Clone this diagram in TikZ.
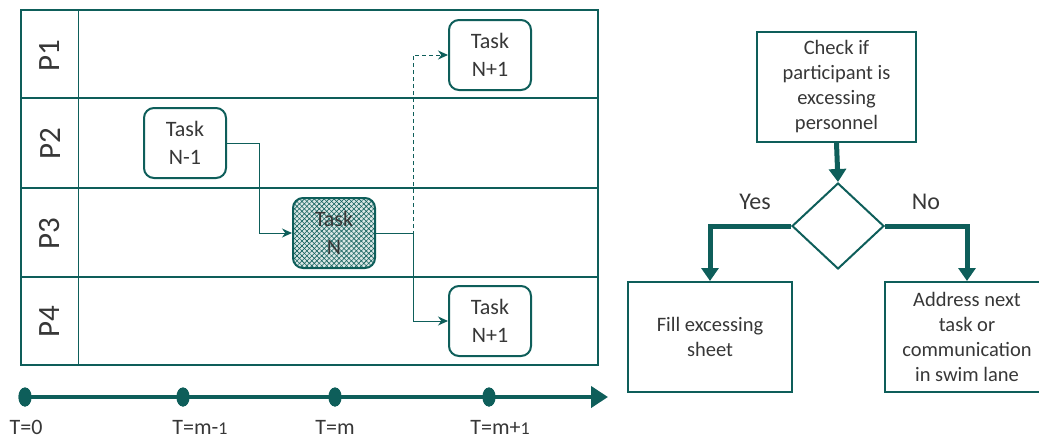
\documentclass[tikz,border=0pt]{standalone}
\usepackage{fontspec}
\setmainfont{Carlito}
\usetikzlibrary{arrows.meta,shapes.geometric,patterns.meta}
\definecolor{lane}{RGB}{14,94,90}
\definecolor{ink}{RGB}{55,55,55}
\tikzset{
  taskbox/.style={draw=lane, line width=2, rounded corners=10, minimum width=82,
    minimum height=70, align=center, text=ink, font=\fontsize{22}{28}\selectfont, fill=white},
  lanelabel/.style={rotate=90, text=ink, font=\fontsize{31}{33}\selectfont},
  conn/.style={draw=lane, line width=1, -{Stealth[length=10,width=9]}},
  tick/.style={ellipse, fill=lane, minimum width=13, minimum height=19, inner sep=0},
  ticklabel/.style={text=ink, font=\fontsize{22}{24}\selectfont},
  flowbox/.style={draw=lane, line width=2, minimum width=164, minimum height=110,
    align=center, text=ink, font=\fontsize{20.5}{25}\selectfont},
  bigarrow/.style={draw=lane, line width=5, -{Triangle[length=13,width=17]}},
  answer/.style={text=ink, font=\fontsize{24}{26}\selectfont}
}
\begin{document}
\begin{tikzpicture}[x=1pt,y=-1pt]
\useasboundingbox (0,0) rectangle (1039,439);

% swim lanes
\draw[lane, line width=1] (78,10) -- (78,365);
\foreach \y in {98,188,277} \draw[lane, line width=2] (21,\y) -- (598,\y);
\draw[lane, line width=2.5] (21,10) rectangle (598,365);
\node[lanelabel] (l1) at (50,56) {P1};
\node[lanelabel] (l2) at (50,144) {P2};
\node[lanelabel] (l3) at (50,234) {P3};
\node[lanelabel] (l4) at (50,322) {P4};

% tasks
\node[taskbox] (tprev) at (185,143) {Task\\N-1};
\node[taskbox, fill=lane!15, postaction={pattern={Lines[angle=45,distance=3.5,line width=0.6]}, pattern color=lane},
  postaction={pattern={Lines[angle=-45,distance=3.5,line width=0.6]}, pattern color=lane}] (tcur) at (334,233) {};
\node[text=ink, font=\fontsize{22}{28}\selectfont, align=center] (tcurtext) at (tcur) {Task\\N};
\node[taskbox] (tnexta) at (490,55) {Task\\N+1};
\node[taskbox] (tnextb) at (490,321) {Task\\N+1};

% hand-offs between lanes
\coordinate (j1) at (259,143);
\coordinate (j2) at (413,233);
\draw[conn] (tprev.east) -- (j1) |- (tcur.west);
\draw[conn] (tcur.east) -- (j2) |- (tnextb.west);
\draw[conn, dashed, dash pattern=on 4 off 3] (tcur.east) -- (j2) |- (tnexta.west);

% time axis
\node[tick] (t0) at (25,397) {};
\node[tick] (t1) at (183,397) {};
\node[tick] (t2) at (335,397) {};
\node[tick] (t3) at (489,397) {};
\coordinate (tend) at (608,397);
\draw[lane, line width=4, -{Triangle[length=17,width=21]}] (t0.center) -- (tend);
\foreach \n in {t0,t1,t2,t3} \node[tick] at (\n) {};
\node[ticklabel] (lt0) at (26,427) {T=0};
\node[ticklabel] (lt1) at (200,427) {T=m-{\fontsize{18}{20}\selectfont 1}};
\node[ticklabel] (lt2) at (335,427) {T=m};
\node[ticklabel] (lt3) at (500,427) {T=m+{\fontsize{18}{20}\selectfont 1}};

% decision flow
\node[flowbox, minimum width=159] (check) at (836.5,87) {Check if\\participant is\\excessing\\personnel};
\node[diamond, draw=lane, line width=2, minimum width=92, minimum height=86, inner sep=0] (dec) at (838,226) {};
\node[flowbox] (fill) at (710,337) {Fill excessing\\sheet};
\node[flowbox] (addr) at (967,337) {Address next\\task or\\communication\\in swim lane};
\draw[bigarrow] (check.south) -- (dec.north);
\draw[bigarrow] (dec.west) -| (fill.north);
\draw[bigarrow] (dec.east) -| (addr.north);
\node[answer] (yes) at (755,202) {Yes};
\node[answer] (no) at (926,202) {No};
\end{tikzpicture}
\end{document}
